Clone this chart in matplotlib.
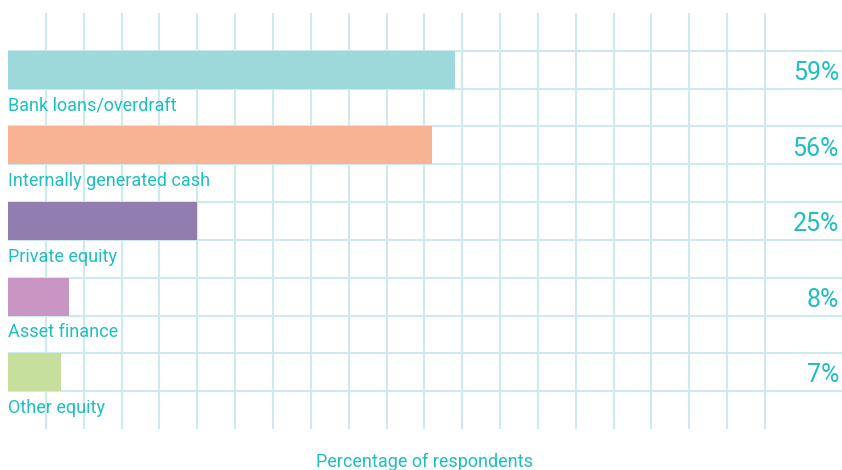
import matplotlib
matplotlib.use("Agg")
import matplotlib.pyplot as plt

categories = ["Bank loans/overdraft", "Internally generated cash", "Private equity",
              "Asset finance", "Other equity"]
values = [59, 56, 25, 8, 7]
colors = ["#9dd8db", "#f8b294", "#917daf", "#c996c3", "#c6df9d"]
xlabel = "Percentage of respondents"

TEXT = "#1dbfc0"
GRID = "#cdebed"
FONT = ["Roboto", "DejaVu Sans"]

W, H = 842, 470
fig = plt.figure(figsize=(W / 100, H / 100), dpi=100)
# axes spans pixel x 8..842, pixel y 13..429
ax = fig.add_axes([8 / W, (H - 429) / H, (W - 8) / W, 416 / H])
px_per_pct = 7.57
ax.set_xlim(0, (W - 8) / px_per_pct)
ax.set_ylim(11, 0)
ax.axis("off")

# grid
for g in range(5, 101, 5):
    ax.axvline(g, color=GRID, lw=1.5, zorder=0)
for r in range(1, 11):
    ax.axhline(r, color=GRID, lw=1.5, zorder=0)

for i, (cat, v, c) in enumerate(zip(categories, values, colors)):
    top = 1 + 2 * i
    ax.barh(top + 0.5, v, height=1.0, left=0, color=c, zorder=2, linewidth=0)
    ax.text(0, top + 1.58, cat, ha="left", va="baseline", color=TEXT,
            fontsize=13, family=FONT, clip_on=False)
    ax.text(1.0 - 3 / (W - 8), top + 0.77, f"{v}%", transform=ax.get_yaxis_transform(),
            ha="right", va="baseline", color=TEXT, fontsize=18, family=FONT,
            clip_on=False)

fig.text(424 / W, (H - 467) / H, xlabel, ha="center", va="baseline", color=TEXT,
         fontsize=13, family=FONT)

fig.savefig("out.png", dpi=100, facecolor="white")
